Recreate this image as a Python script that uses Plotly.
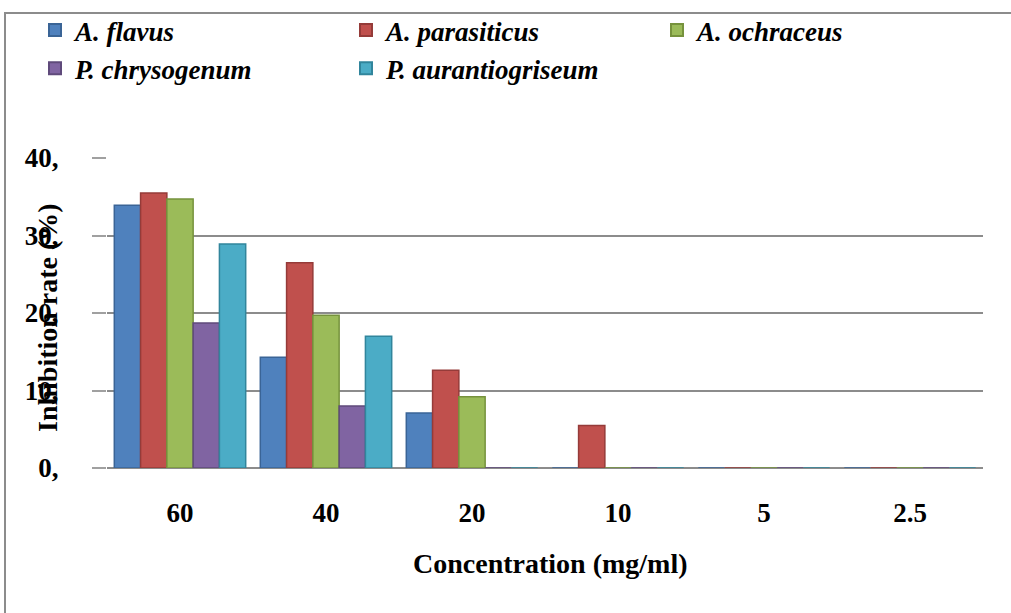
import plotly.graph_objects as go

categories = ["60", "40", "20", "10", "5", "2.5"]
series_names = ["A. flavus", "A. parasiticus", "A. ochraceus", "P. chrysogenum", "P. aurantiogriseum"]
a_flavus = [33.9, 14.3, 7.1, 0, 0, 0]
a_parasiticus = [35.5, 26.5, 12.6, 5.5, 0, 0]
a_ochraceus = [34.7, 19.7, 9.2, 0, 0, 0]
p_chrysogenum = [18.7, 8.0, 0, 0, 0, 0]
p_aurantiogriseum = [28.9, 17.0, 0, 0, 0, 0]
y_tickvals = [0, 10, 20, 30, 40]
y_ticktext = ["0,", "10,", "20,", "30,", "40,"]

colors = ["#4F81BD", "#C0504D", "#9BBB59", "#8064A2", "#4BACC6"]
edges = ["#3A6496", "#953B39", "#76923C", "#5F4A7B", "#31859C"]
values = [a_flavus, a_parasiticus, a_ochraceus, p_chrysogenum, p_aurantiogriseum]

W, H = 1011, 613
L, R, T, B = 107, 28, 158, 145
pw, ph = W - L - R, H - T - B

def px(x):
    return (x - L) / pw

def py(y):
    return (H - B - y) / ph

fig = go.Figure()
for name, vals, c, e in zip(series_names, values, colors, edges):
    fig.add_trace(go.Bar(
        x=categories, y=vals, name=name,
        marker=dict(color=c, line=dict(color=e, width=1.5)),
    ))

font_fam = "Liberation Serif, Times New Roman, serif"

fig.update_layout(
    width=W, height=H,
    margin=dict(l=L, r=R, t=T, b=B, autoexpand=False),
    paper_bgcolor="white", plot_bgcolor="white",
    barmode="group", bargap=0.1, bargroupgap=0.0,
    font=dict(family=font_fam, size=28, color="black"),
    showlegend=True,
    legend=dict(
        orientation="h", xref="paper", yref="paper",
        x=px(35), y=py(6), xanchor="left", yanchor="top",
        entrywidth=266, entrywidthmode="pixels",
        font=dict(family=font_fam, size=27, color="black", style="italic", weight="bold"),
        itemsizing="constant", itemwidth=30, tracegroupgap=0, bgcolor="rgba(0,0,0,0)",
    ),
    xaxis=dict(
        showgrid=False, showline=False, zeroline=False,
        tickfont=dict(family=font_fam, size=27, weight="bold"),
        ticks="", ticklabelstandoff=26,
    ),
    yaxis=dict(
        range=[0, 40], tickvals=y_tickvals, ticktext=y_ticktext,
        showgrid=True, gridcolor="#8C8C8C", gridwidth=2,
        zeroline=True, zerolinecolor="#8C8C8C", zerolinewidth=2,
        showline=False, ticks="outside", ticklen=14, tickcolor="#A0A0A0", tickwidth=2,
        tickfont=dict(family=font_fam, size=27, weight="bold"),
        ticklabelstandoff=28,
    ),
    shapes=[dict(type="rect", xref="paper", yref="paper",
                 x0=px(5), x1=px(1030), y0=py(640), y1=py(13),
                 line=dict(color="#8C8C8C", width=2), fillcolor="rgba(0,0,0,0)", layer="below")],
    annotations=[
        dict(text="<b>Inhibition rate (%)</b>", xref="paper", yref="paper",
             x=px(47), y=py(318), textangle=-90, showarrow=False,
             font=dict(family=font_fam, size=28, color="black"),
             xanchor="center", yanchor="middle"),
        dict(text="<b>Concentration (mg/ml)</b>", xref="paper", yref="paper",
             x=px(550), y=py(563), showarrow=False,
             font=dict(family=font_fam, size=28, color="black"),
             xanchor="center", yanchor="middle"),
    ],
)

fig.write_html("out.html")
